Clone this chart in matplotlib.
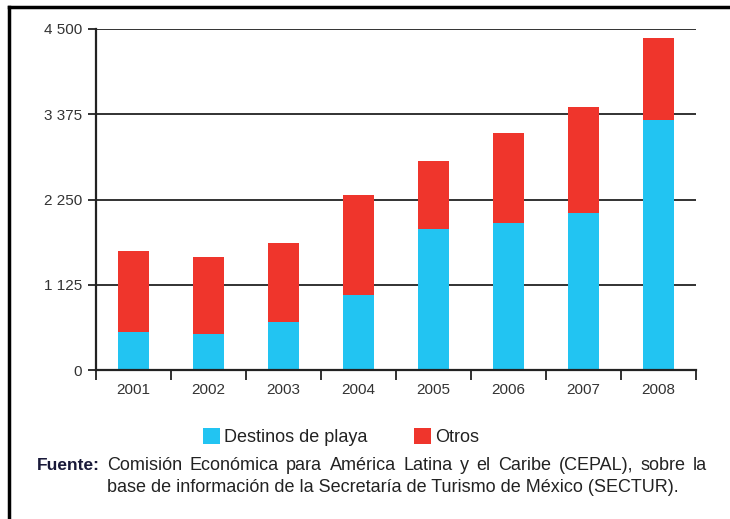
import matplotlib.pyplot as plt
from matplotlib.lines import Line2D
from matplotlib.ticker import FuncFormatter

plt.rcParams['font.family'] = ['Liberation Sans', 'DejaVu Sans']

# Datos por año
years = ['2001', '2002', '2003', '2004', '2005', '2006', '2007', '2008']
playa = [506, 480, 638, 986, 1861, 1940, 2072, 3296]
otros = [1065, 1007, 1034, 1324, 902, 1192, 1403, 1082]
y_ticks = [0, 1125, 2250, 3375, 4500]

fuente_1 = 'Comisión Económica para América Latina y el Caribe (CEPAL), sobre la'
fuente_2 = 'base de información de la Secretaría de Turismo de México (SECTUR).'

blue = '#22c4f2'
red = '#ef352c'
W, H = 730, 519

fig = plt.figure(figsize=(W / 100, H / 100), dpi=100)
ax = fig.add_axes([96 / W, 1 - 370 / H, 600 / W, 341 / H])

x = range(len(years))
ax.bar(x, playa, width=0.42, color=blue, zorder=3, label='Destinos de playa')
ax.bar(x, otros, width=0.42, bottom=playa, color=red, zorder=3, label='Otros')

ax.set_xlim(-0.5, len(years) - 0.5)
ax.set_ylim(0, 4500)

# Eje y con separador de miles por espacio
ax.set_yticks(y_ticks)
ax.yaxis.set_major_formatter(FuncFormatter(lambda v, p: f'{int(v):,}'.replace(',', ' ')))
ax.yaxis.grid(True, color='#222222', linewidth=1.3, zorder=1)
ax.tick_params(axis='y', length=6, width=1.3, color='#222222',
               labelsize=11, labelcolor='#333333', pad=4)

# Etiquetas centradas, marcas entre categorías
ax.set_xticks(list(x))
ax.set_xticklabels(years)
ax.set_xticks([i - 0.5 for i in range(len(years) + 1)], minor=True)
ax.tick_params(axis='x', which='major', length=0, labelsize=11,
               labelcolor='#333333', pad=9)
ax.tick_params(axis='x', which='minor', length=7, width=1.3, color='#222222')

for side in ['top', 'right']:
    ax.spines[side].set_visible(False)
for side in ['left', 'bottom']:
    ax.spines[side].set_linewidth(1.6)
    ax.spines[side].set_color('#222222')
    ax.spines[side].set_zorder(4)

leg = fig.legend(loc='center left', bbox_to_anchor=(203 / W, 1 - 437 / H), ncol=2,
                 frameon=False, fontsize=13, handlelength=0.95, handleheight=0.95,
                 handletextpad=0.2, columnspacing=2.6, borderaxespad=0, borderpad=0)
for t in leg.get_texts():
    t.set_color('#222222')

# Fuente
fs = 13
y1, y2 = 1 - 465 / H, 1 - 487 / H
fig.text(37 / W, y1, 'Fuente:', fontsize=fs - 0.5, fontweight='bold',
         color='#1a1a3a', va='center')

# primera línea justificada entre x=107 y x=707
renderer = fig.canvas.get_renderer()
words = fuente_1.split()
texts = [fig.text(0, y1, w, fontsize=fs, color='#222222', va='baseline') for w in words]
widths = [t.get_window_extent(renderer).width for t in texts]
gap = (600 - sum(widths)) / (len(words) - 1)
pos = 107
for t, w in zip(texts, widths):
    t.set_x(pos / W)
    t.set_y(y1 - 5 / H)
    pos += w + gap
fig.text(107 / W, y2 - 5 / H, fuente_2, fontsize=fs, color='#222222', va='baseline')

# Marco
fig.add_artist(Line2D([9 / W, 9 / W], [0, 1 - 7 / H], transform=fig.transFigure,
                      color='black', linewidth=2.5))
fig.add_artist(Line2D([9 / W, 1], [1 - 7 / H, 1 - 7 / H], transform=fig.transFigure,
                      color='black', linewidth=2.5))

fig.savefig('out.png', dpi=100)
